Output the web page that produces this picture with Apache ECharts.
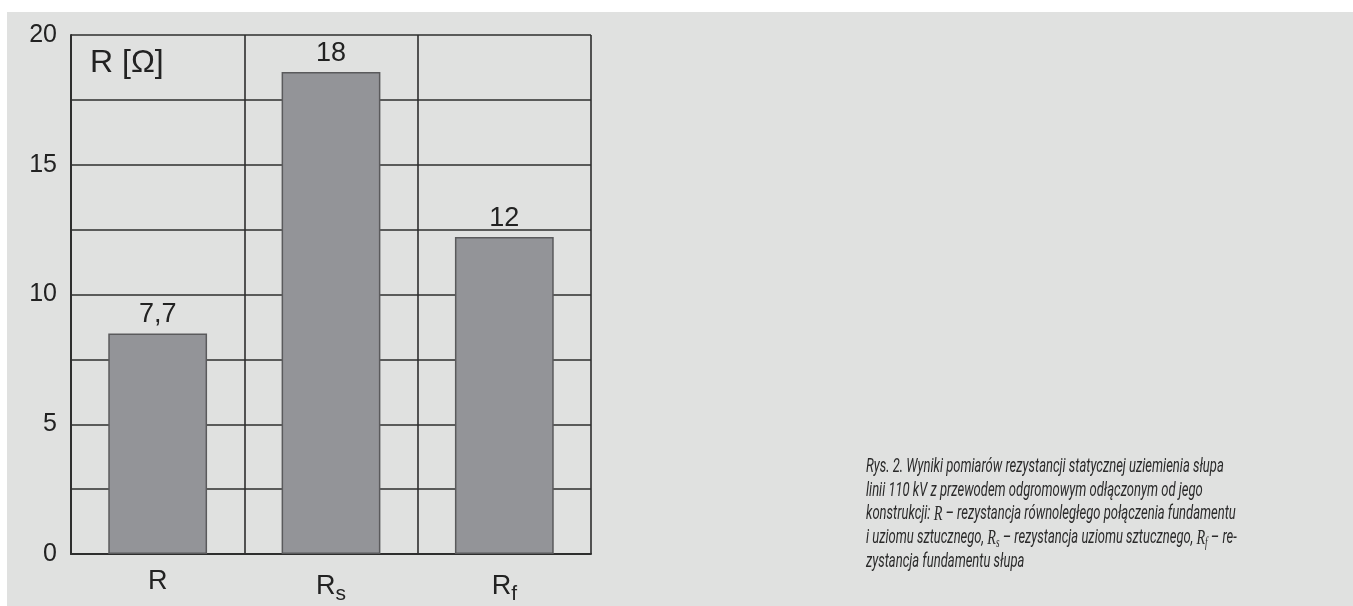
<!DOCTYPE html>
<html>
<head>
<meta charset="utf-8">
<script src="https://cdn.jsdelivr.net/npm/echarts@6/dist/echarts.min.js"></script>
<style>
html,body{margin:0;padding:0;background:#ffffff;width:1353px;height:606px;overflow:hidden;}
#bg{position:absolute;left:7px;top:12px;right:0;bottom:0;background:#e0e1e0;}
#chart{position:absolute;left:0;top:0;width:1353px;height:606px;}
</style>
</head>
<body>
<div id="bg"></div>
<div id="chart"></div>
<script>
const categories = ['R', 'Rs', 'Rf'];
const barValues = [8.5, 18.57, 12.22];
const barLabels = ['7,7', '18', '12'];
const yTicks = [0, 5, 10, 15, 20];
const unitLabel = 'R [Ω]';
const captionLines = [
  'Rys. 2. Wyniki pomiarów rezystancji statycznej uziemienia słupa',
  'linii 110 kV z przewodem odgromowym odłączonym od jego',
  'konstrukcji: {m|R} – rezystancja równoległego połączenia fundamentu',
  'i uziomu sztucznego, {m|R}{sub|s} – rezystancja uziomu sztucznego, {m|R}{sub|f} – re-',
  'zystancja fundamentu słupa'
];

const lineColor = '#2e2e2e';
const chart = echarts.init(document.getElementById('chart'), null, {renderer: 'canvas'});
const capFont = "Roboto, 'Liberation Sans', sans-serif";

chart.setOption({
  animation: false,
  grid: {left: 71, top: 35, width: 520, height: 519},
  xAxis: {
    type: 'category',
    data: categories,
    boundaryGap: true,
    axisLine: {show: true, lineStyle: {color: lineColor, width: 2}},
    axisTick: {show: false},
    splitLine: {show: true, lineStyle: {color: lineColor, width: 1.6}},
    axisLabel: {
      margin: 14,
      color: '#222',
      fontFamily: "'Liberation Sans', Arial, sans-serif",
      fontSize: 27,
      formatter: function (v) {
        if (v.length > 1) return '{b|' + v[0] + '}{s|' + v.slice(1) + '}';
        return '{b|' + v + '}';
      },
      rich: {
        b: {fontSize: 27, color: '#222', fontFamily: "'Liberation Sans', Arial, sans-serif"},
        s: {fontSize: 21, color: '#222', fontFamily: "'Liberation Sans', Arial, sans-serif", verticalAlign: 'bottom', padding: [16, 0, 0, 0]}
      }
    }
  },
  yAxis: {
    type: 'value',
    min: 0,
    max: 20,
    interval: 2.5,
    axisLine: {show: true, lineStyle: {color: lineColor, width: 2}},
    axisTick: {show: false},
    splitLine: {show: true, lineStyle: {color: lineColor, width: 1.6}},
    axisLabel: {
      margin: 14,
      color: '#222',
      fontFamily: "'Liberation Sans', Arial, sans-serif",
      fontSize: 25,
      formatter: function (v) { return yTicks.indexOf(v) >= 0 ? String(v) : ''; }
    }
  },
  series: [{
    type: 'bar',
    data: barValues,
    barWidth: '57%',
    itemStyle: {color: '#939498', borderColor: '#5a5a5c', borderWidth: 1.5},
    label: {
      show: true,
      position: 'top',
      distance: 5,
      color: '#222',
      fontFamily: "'Liberation Sans', Arial, sans-serif",
      fontSize: 27,
      formatter: function (p) { return barLabels[p.dataIndex]; }
    }
  }],
  graphic: [
    {
      type: 'text',
      x: 90,
      y: 47,
      style: {
        text: unitLabel,
        fill: '#222',
        font: "32px 'Liberation Sans', Arial, sans-serif",
        verticalAlign: 'top'
      }
    },
    {
      type: 'text',
      x: 866,
      y: 455,
      scaleX: 0.65,
      style: {
        text: captionLines.join('\n'),
        fill: '#2a2a2a',
        fontFamily: capFont,
        fontStyle: 'italic',
        fontSize: 20,
        lineHeight: 23.7,
        verticalAlign: 'top',
        rich: {
          m: {fontFamily: "'Liberation Serif', 'Times New Roman', serif", fontStyle: 'italic', fontSize: 22, fill: '#2a2a2a', lineHeight: 23.7},
          sub: {fontFamily: "'Liberation Serif', 'Times New Roman', serif", fontStyle: 'italic', fontSize: 14, fill: '#2a2a2a', lineHeight: 23.7, padding: [11, 0, 0, 0]}
        }
      }
    }
  ]
});
</script>
</body>
</html>
